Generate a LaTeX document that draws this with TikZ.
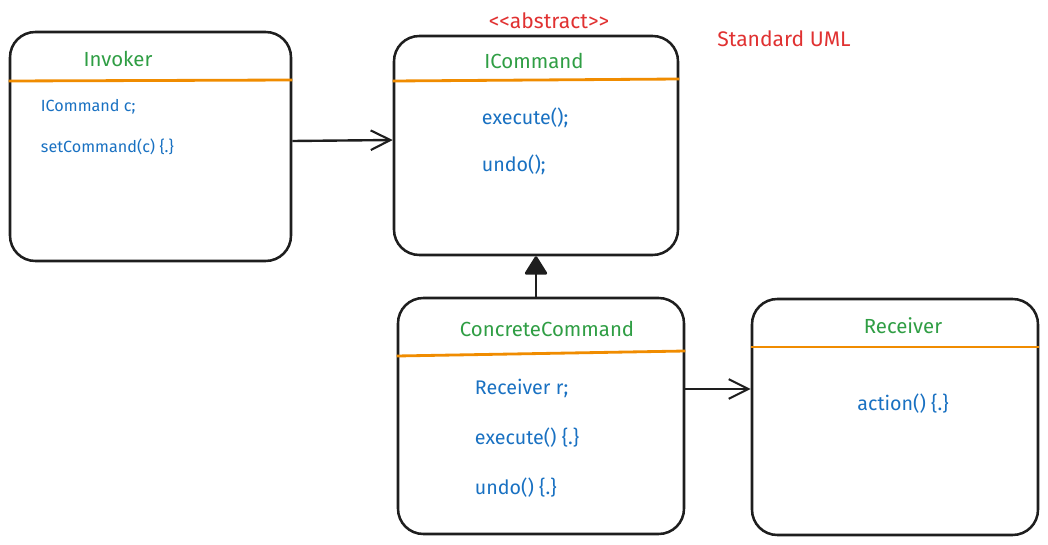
\documentclass[tikz,border=0pt]{standalone}
\usepackage{fontspec}
\setmainfont{Fira Sans}
\usepackage{tikz}
\usetikzlibrary{arrows.meta, positioning, calc}
\definecolor{inkblack}{HTML}{1E1E1E}
\definecolor{titlegreen}{HTML}{2F9E44}
\definecolor{membblue}{HTML}{1971C2}
\definecolor{lineorange}{HTML}{F08C00}
\definecolor{notered}{HTML}{E03131}

\begin{document}
\begin{tikzpicture}[
    x=0.025cm, y=-0.025cm,
    class/.style={
        rectangle, draw=inkblack, line width=1.8pt, rounded corners=18pt,
        fill=white, minimum width=#1*0.025cm, minimum height=229*0.025cm,
        inner sep=0pt
    },
    title/.style={font=\fontsize{14.5}{17}\selectfont, text=titlegreen},
    member/.style={font=\fontsize{14}{17}\selectfont, text=membblue, anchor=west},
    smallmember/.style={font=\fontsize{11.5}{14}\selectfont, text=membblue, anchor=west},
    divider/.style={lineorange, line width=2pt},
    note/.style={font=\fontsize{15}{18}\selectfont, text=notered},
    arr/.style={-{Straight Barb[length=14pt, width=14pt, line width=1.5pt]}, line width=1.7pt, inkblack},
    inh/.style={-{Triangle[round, length=14pt, width=17pt, line width=2pt]}, line width=1.7pt, inkblack}
]
\useasboundingbox (0,0) rectangle (1048,545);

% Invoker
\node[class=281] (inv) at (150.5,146.5) {};
\node[title] (invt) at (118,59) {Invoker};
\draw[divider] (inv.west |- 0,81) -- (inv.east |- 0,80);
\node[smallmember] (invf) at (36,107) {ICommand c;};
\node[smallmember] (invm) at (36,147) {setCommand(c) \{.\}};

% ICommand
\node[class=284, minimum height=219*0.025cm] (icmd) at (536,145.5) {};
\node[note] (abs) at (549,21) {{<}{<}abstract{>}{>}};
\node[title] (icmdt) at (534,61) {ICommand};
\draw[divider] (icmd.west |- 0,81) -- (icmd.east |- 0,79);
\node[member] (icmdm1) at (477,118) {execute();};
\node[member] (icmdm2) at (477,165) {undo();};

% note
\node[note] (std) at (784,39) {Standard UML};

% ConcreteCommand
\node[class=286, minimum height=236*0.025cm] (cc) at (541,416) {};
\node[title] (cct) at (547,329) {ConcreteCommand};
\draw[divider] (cc.west |- 0,356) -- (cc.east |- 0,351);
\node[member] (ccf) at (470,388) {Receiver r;};
\node[member] (ccm1) at (470,438) {execute() \{.\}};
\node[member] (ccm2) at (470,488) {undo() \{.\}};

% Receiver
\node[class=286, minimum height=236*0.025cm] (recv) at (895,417) {};
\node[title] (recvt) at (903,326) {Receiver};
\draw[divider] (recv.west |- 0,347) -- (recv.east |- 0,347);
\node[member, anchor=center] (recvm) at (903,404) {action() \{.\}};

% Arrows
\draw[arr] (inv.east |- 0,141) -- (icmd.west |- 0,140);
\draw[inh] (icmd.south |- cc.north) -- (icmd.south);
\draw[arr] (cc.east |- 0,389) -- (recv.west |- 0,389);

\end{tikzpicture}
\end{document}
